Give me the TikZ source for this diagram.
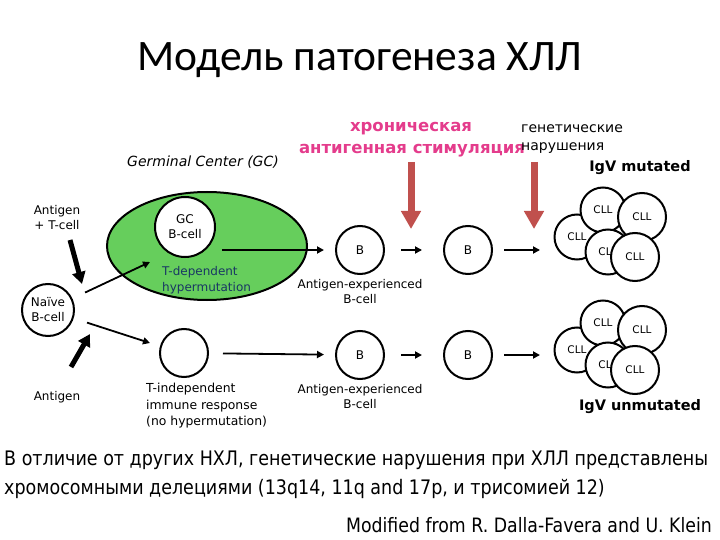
\documentclass[tikz,border=0pt]{standalone}
\usepackage{fontspec}
\setmainfont{DejaVu Sans}
\newfontfamily\titlefont{Carlito}
\newfontfamily\narrowfont[FakeStretch=0.875]{DejaVu Sans}
\usetikzlibrary{arrows.meta,shapes.geometric}
\definecolor{gcgreen}{RGB}{102,206,92}
\definecolor{pinktxt}{RGB}{228,60,140}
\definecolor{redarrow}{RGB}{192,80,77}
\definecolor{navytxt}{RGB}{25,55,100}
\tikzset{
  cell/.style={circle, draw, line width=2pt, fill=white, minimum size=48pt, inner sep=0pt,
    align=center, font=\fontsize{12}{15}\selectfont},
  cll/.style={circle, draw, line width=2pt, fill=white, minimum size=45pt, inner sep=0pt,
    font=\fontsize{10.5}{12}\selectfont},
  cllbig/.style={cll, minimum size=48pt},
  arr/.style={-{Triangle[length=7pt,width=7pt]}, line width=1.8pt},
  fatarr/.style={-{Triangle[length=12pt,width=13pt]}, line width=5pt},
  redarr/.style={draw=redarrow, line width=7pt, -{Triangle[length=18pt,width=19pt]}},
  lbl/.style={inner sep=0pt, align=center, font=\fontsize{12}{15}\selectfont},
  lbll/.style={inner sep=0pt, align=left, anchor=west, font=\fontsize{12.4}{16.5}\selectfont},
  pink/.style={inner sep=0pt, text=pinktxt, font=\fontsize{16.5}{19}\selectfont\bfseries},
  igv/.style={inner sep=0pt, font=\fontsize{14.5}{17}\selectfont\bfseries},
  bottomtxt/.style={inner sep=0pt, anchor=west, font=\narrowfont\fontsize{20}{23}\selectfont}
}
\begin{document}
\begin{tikzpicture}[x=1pt,y=-1pt]
\useasboundingbox (0,0) rectangle (720,540);

% title
\node[inner sep=0pt, font=\titlefont\fontsize{43.5}{50}\selectfont] (title) at (360,60) {Модель патогенеза ХЛЛ};

% germinal center
\node[inner sep=0pt, font=\fontsize{14}{16}\selectfont\itshape] (gclabel) at (203,162) {Germinal Center (GC)};
\node[ellipse, draw, line width=2pt, fill=gcgreen, minimum width=200pt, minimum height=108pt, inner sep=0pt] (gc) at (207,246) {};
\node[cell, minimum size=60pt] (gcb) at (185,227) {GC\\B-cell};
\node[lbll, text=navytxt, font=\fontsize{12}{16}\selectfont] (tdep) at (162,280) {T-dependent\\hypermutation};

% left side
\node[lbl] (agt) at (57,218) {Antigen\\+ T-cell};
\node[cell, minimum size=52pt] (naive) at (48,310) {Naïve\\B-cell};
\node[lbl] (ag) at (57,397) {Antigen};
\coordinate (agts) at (70,240);
\coordinate (agte) at (82,284);
\coordinate (ags) at (71,367);
\coordinate (age) at (90,334);
\draw[fatarr] (agts) -- (agte);
\draw[fatarr] (ags) -- (age);
\coordinate (gcin) at (150,262);
\coordinate (tin) at (150,343);
\draw[arr, shorten <=14pt] (naive) -- (gcin);
\draw[arr, shorten <=14pt] (naive) -- (tin);

% T-independent
\node[cell] (tind) at (184,353) {};
\node[lbll] (tindl) at (146,406) {T-independent\\immune response\\(no hypermutation)};

% B cells
\node[cell] (b1) at (360,250) {B};
\node[cell] (b2) at (468,250) {B};
\node[cell] (b3) at (360,355) {B};
\node[cell] (b4) at (468,355) {B};
\node[lbl] (b1l) at (360,292) {Antigen-experienced\\B-cell};
\node[lbl] (b3l) at (360,397) {Antigen-experienced\\B-cell};

\coordinate (gcout) at (222,250);
\draw[arr, shorten >=11pt] (gcout) -- (b1);
\draw[arr, shorten <=16pt, shorten >=21pt] (b1) -- (b2);
\coordinate (cltin) at (540,250);
\draw[arr, shorten <=11pt] (b2) -- (cltin);
\draw[arr, shorten <=14pt, shorten >=11pt] (tind) -- (b3);
\draw[arr, shorten <=16pt, shorten >=21pt] (b3) -- (b4);
\coordinate (clbin) at (540,355);
\draw[arr, shorten <=11pt] (b4) -- (clbin);

% stimulation labels and red arrows
\node[pink] (chr1) at (411,129) {хроническая};
\node[pink] (chr2) at (412,151) {антигенная стимуляция};
\node[inner sep=0pt, anchor=west, align=left, font=\fontsize{14}{18}\selectfont] (gen) at (521,139) {генетические\\нарушения};
\coordinate (r1s) at (411,162);
\coordinate (r1e) at (411,229);
\coordinate (r2s) at (534,162);
\coordinate (r2e) at (534,229);
\draw[redarr] (r1s) -- (r1e);
\draw[redarr] (r2s) -- (r2e);

% CLL clusters
\node[igv] (igvm) at (640,168) {IgV mutated};
\node[cll] (t3) at (577,237) {CLL};
\node[cll] (t1) at (603,210) {CLL};
\node[cllbig] (t2) at (642,217) {CLL};
\node[cll] (t4) at (608,252) {CLL};
\node[cllbig] (t5) at (635,257) {CLL};

\node[cll] (u3) at (577,350) {CLL};
\node[cll] (u1) at (603,323) {CLL};
\node[cllbig] (u2) at (642,330) {CLL};
\node[cll] (u4) at (608,365) {CLL};
\node[cllbig] (u5) at (635,370) {CLL};
\node[igv] (igvu) at (640,407) {IgV unmutated};

% bottom text
\node[bottomtxt] (txt1) at (4,460) {В отличие от других НХЛ, генетические нарушения при ХЛЛ представлены};
\node[bottomtxt] (txt2) at (4,489) {хромосомными делециями (13q14, 11q and 17p, и трисомией 12)};
\node[inner sep=0pt, anchor=east, font=\narrowfont\fontsize{19.8}{22}\selectfont] (src) at (712,525) {Modified from R. Dalla-Favera and U. Klein};
\end{tikzpicture}
\end{document}
